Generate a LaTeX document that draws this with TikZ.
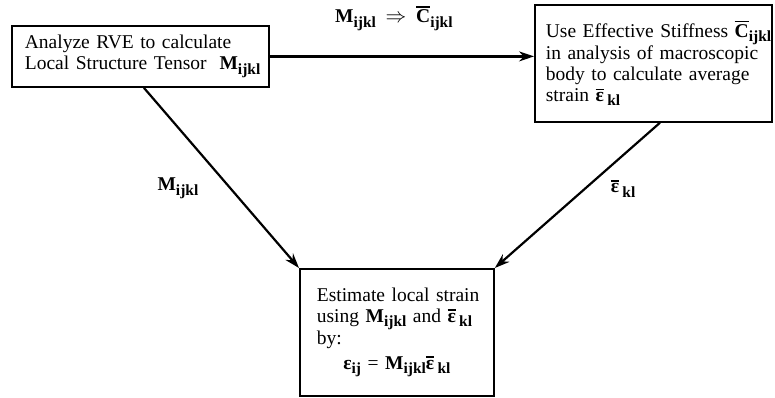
\documentclass[tikz,border=0pt]{standalone}
\usepackage{fontspec}
\setmainfont{Liberation Serif}
\usetikzlibrary{arrows.meta}
\newcommand{\sbs}[1]{\raisebox{-4.5pt}{\fontsize{15.5}{15.5}\selectfont\bfseries #1}}
\newcommand{\ovb}[1]{\leavevmode\setbox0=\hbox{#1}\rlap{\raisebox{\dimexpr\ht0+2pt\relax}{\rule{\wd0}{1.5pt}}}\box0}
\newcommand{\Mt}{\textbf{M}\sbs{ijkl}}
\newcommand{\Ct}{\ovb{\textbf{C}}\sbs{ijkl}}
\newcommand{\Et}{\ovb{\textbf{ε}}\,\sbs{kl}}
\newcommand{\oneline}[1]{\mbox{#1}}
\tikzset{
  box/.style={draw, line width=1.8pt, anchor=north west, align=left,
    font=\fontsize{19.5}{20.7}\selectfont, inner ysep=0pt},
  conn/.style={line width=2.2pt, -{Stealth[length=15pt,width=10pt]}},
  lbl/.style={font=\fontsize{19.5}{20.7}\selectfont, inner sep=0pt}
}
\begin{document}
\begin{tikzpicture}[x=1pt,y=-1pt]
\useasboundingbox (0,0) rectangle (775,397);
\node[box, minimum width=257pt, minimum height=61pt, text width=231pt, inner xsep=12pt]
  (lb) at (11,25) {\oneline{Analyze RVE to calculate}\\\oneline{Local Structure Tensor\ \ \Mt}};
\node[box, minimum width=237pt, minimum height=117pt, text width=215pt, inner xsep=11pt]
  (rb) at (534,4) {\oneline{Use Effective Stiffness \Ct}\\\oneline{in analysis of macroscopic}\\\oneline{body to calculate average}\\\oneline{strain \Et}};
\node[box, minimum width=194pt, minimum height=127pt, text width=160pt, inner xsep=17pt]
  (bb) at (299,268) {\oneline{Estimate local strain}\\\oneline{using \Mt\ and \Et}\\\oneline{by:}\\[4pt]\hbox to \hsize{\hfil\textbf{ε}\sbs{ij} = \Mt\Et\hfil}};
\draw[conn] (lb.east) -- (lb.east -| rb.west)
  node[lbl, midway, above=25pt, xshift=-8pt] (tl) {\Mt\ \ $\Rightarrow$\ \ \Ct};
\draw[conn] ([xshift=3.5pt]lb.south) -- (bb.north west)
  node[lbl, pos=0.558, left=31pt] (ml) {\Mt};
\draw[conn] ([xshift=6.5pt]rb.south) -- (bb.north east)
  node[lbl, pos=0.455, right=25pt] (el) {\Et};
\end{tikzpicture}
\end{document}
